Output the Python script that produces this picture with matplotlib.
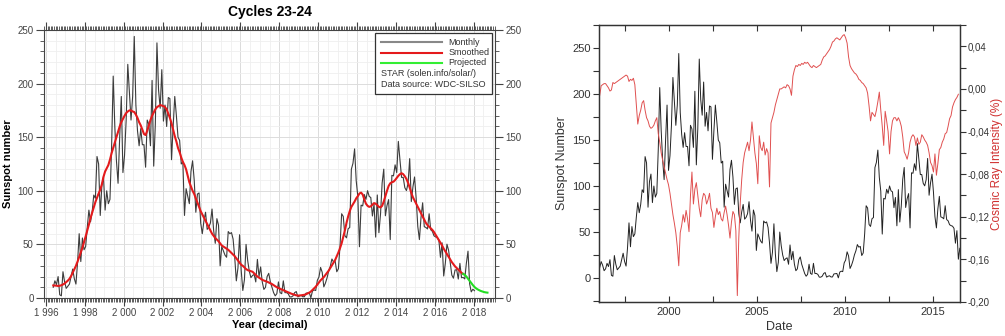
import numpy as np
import matplotlib.pyplot as plt
from matplotlib.ticker import MultipleLocator, FuncFormatter

plt.rcParams['font.family'] = ['Liberation Sans', 'DejaVu Sans']

# monthly sunspot number, Jan 1996 .. Jan 2018
monthly_ssn = [
    11.5, 17.9, 13.9, 8.0, 10.0, 16.0, 12.5, 20.0, 3.0, 2.0, 24.5, 15.0,
    9.0, 11.0, 13.0, 20.0, 27.0, 18.0, 13.0, 33.0, 60.0, 34.0, 56.0, 45.0,
    48.0, 66.0, 82.0, 71.0, 80.0, 96.0, 93.0, 132.0, 125.0, 77.0, 105.0, 113.0,
    82.0, 100.0, 88.0, 92.0, 140.0, 207.0, 160.0, 128.0, 107.0, 150.0, 188.0, 117.0,
    133.0, 166.0, 218.0, 192.0, 166.0, 188.0, 244.0, 180.0, 156.0, 142.0, 158.0, 143.0,
    143.0, 122.0, 166.0, 162.0, 142.0, 203.0, 123.0, 162.0, 238.0, 194.0, 177.0, 213.0,
    165.0, 180.0, 160.0, 187.0, 186.0, 129.0, 160.0, 188.0, 170.0, 150.0, 147.0, 125.0,
    127.0, 77.0, 102.0, 95.0, 88.0, 118.0, 128.0, 110.0, 80.0, 97.0, 98.0, 70.0,
    60.0, 72.0, 80.0, 64.0, 66.0, 70.0, 83.0, 63.0, 51.0, 74.0, 68.0, 30.0,
    48.0, 44.0, 40.0, 38.0, 62.0, 60.0, 61.0, 55.0, 38.0, 16.0, 28.0, 59.0,
    26.0, 7.0, 17.0, 50.0, 35.0, 25.0, 19.0, 21.0, 22.0, 15.0, 36.0, 20.0,
    29.0, 15.0, 8.0, 10.0, 20.0, 23.0, 15.0, 10.0, 5.0, 2.0, 4.0, 15.0,
    5.0, 4.0, 16.0, 5.0, 5.0, 4.0, 1.0, 1.0, 2.0, 5.0, 6.0, 1.0,
    2.0, 2.5, 1.2, 1.2, 4.5, 4.7, 5.0, 0.2, 6.5, 7.5, 7.0, 16.5,
    19.6, 28.5, 24.0, 10.4, 13.9, 18.8, 25.2, 29.6, 36.4, 33.6, 34.4, 24.5,
    27.3, 48.3, 78.6, 76.1, 58.2, 56.1, 64.5, 65.8, 120.1, 125.7, 139.1, 109.3,
    94.4, 47.8, 86.6, 85.9, 96.5, 92.0, 100.1, 94.8, 93.7, 76.5, 87.6, 56.8,
    96.1, 60.9, 78.3, 107.3, 120.2, 76.7, 86.2, 91.8, 54.5, 114.4, 113.9, 124.2,
    117.0, 146.1, 128.7, 112.5, 112.5, 102.9, 100.2, 106.9, 130.0, 90.0, 103.6, 112.9,
    93.0, 66.7, 54.5, 75.3, 88.8, 66.5, 65.8, 64.4, 78.6, 63.6, 62.2, 58.0,
    57.0, 56.4, 54.1, 37.9, 51.5, 20.5, 32.4, 50.2, 44.6, 33.4, 21.4, 18.5,
    26.1, 26.4, 17.7, 32.3, 18.9, 19.2, 17.8, 32.6, 43.7, 13.2, 5.7, 8.2,
    6.8,
]

# 13-month smoothed, May 1996 .. Jun 2017
smoothed_ssn = [
    11.7, 11.6, 11.5, 11.2, 11.4, 11.9, 12.6, 13.5,
    14.8, 16.2, 17.9, 20.4, 23.6, 26.7, 30.0, 34.0, 38.4, 42.6, 46.8, 52.0,
    57.5, 63.0, 68.5, 74.5, 79.5, 84.5, 89.5, 93.5, 97.5, 101.0, 106.0, 113.0,
    118.0, 121.0, 124.0, 129.0, 135.0, 140.0, 145.0, 150.0, 155.0, 160.0, 164.0, 167.0,
    170.0, 172.5, 174.0, 175.0, 175.0, 174.0, 173.5, 171.0, 168.0, 164.0, 161.0, 157.0,
    153.0, 152.0, 156.0, 161.0, 166.0, 170.0, 173.0, 176.0, 178.0, 179.0, 180.0, 179.5,
    179.0, 178.0, 176.0, 172.0, 168.0, 163.0, 157.0, 151.0, 146.0, 140.0, 136.0, 131.0,
    127.0, 124.0, 120.0, 114.0, 108.0, 104.0, 100.0, 97.0, 93.0, 89.0, 85.0, 81.0,
    78.0, 75.0, 72.0, 69.0, 66.0, 63.0, 60.0, 58.0, 56.0, 54.5, 53.0, 51.0,
    49.0, 48.0, 47.0, 46.0, 45.0, 43.5, 42.0, 40.5, 39.0, 37.0, 35.0, 33.0,
    31.0, 30.0, 28.5, 27.0, 26.0, 25.5, 25.0, 24.5, 23.0, 21.5, 20.0, 19.0,
    18.0, 17.0, 16.3, 15.8, 15.2, 14.5, 13.8, 13.0, 12.0, 11.0, 10.0, 9.3,
    8.6, 8.0, 7.3, 6.6, 6.0, 5.3, 4.6, 4.0, 3.5, 3.0, 2.5, 2.2,
    2.3, 2.5, 2.7, 3.0, 3.5, 4.2, 5.0, 6.0, 7.5, 9.0, 10.5, 12.5,
    14.5, 16.5, 18.0, 19.5, 21.5, 23.5, 25.5, 28.0, 30.5, 33.0, 35.5, 39.0,
    42.5, 46.5, 51.0, 57.0, 63.0, 70.0, 76.0, 81.0, 85.0, 87.5, 90.0, 93.0,
    95.0, 97.5, 98.3, 96.5, 92.0, 88.0, 86.0, 85.0, 85.5, 87.0, 88.5, 88.0,
    86.5, 85.0, 84.5, 86.0, 90.0, 95.0, 100.0, 104.5, 107.0, 108.0, 108.5, 110.0,
    112.0, 114.0, 115.5, 116.4, 115.5, 113.5, 111.0, 107.5, 103.0, 98.0, 94.0, 91.0,
    88.0, 85.0, 82.0, 79.0, 76.0, 73.0, 70.0, 68.0, 66.5, 65.0, 63.5, 61.5,
    59.0, 56.5, 54.0, 51.5, 49.0, 46.0, 43.5, 41.0, 38.5, 36.0, 33.5, 31.5,
    29.5, 28.0, 26.5, 25.0, 23.5, 22.5,
]

# projected smoothed, Jun 2017 .. Sep 2018
projected_ssn = [22.5, 21.5, 20.0, 18.0, 16.0, 14.0, 12.0, 10.3,
                 9.0, 8.0, 7.2, 6.5, 6.0, 5.5, 5.2, 5.0]

# cosmic ray intensity (%), Jan 1996 .. Jun 2016
cosmic_ray = [
    -0.006, 0.003, 0.004, 0.005, 0.005, 0.003, 0.001, -0.002, -0.001, 0.006, 0.005, 0.006,
    0.007, 0.008, 0.009, 0.010, 0.011, 0.012, 0.013, 0.012, 0.007, 0.009, 0.008, 0.010,
    0.004, -0.015, -0.033, -0.025, -0.020, -0.013, -0.011, -0.020, -0.027, -0.030, -0.035, -0.037,
    -0.036, -0.034, -0.030, -0.027, -0.042, -0.050, -0.060, -0.067, -0.073, -0.079, -0.085, -0.090,
    -0.098, -0.108, -0.118, -0.126, -0.135, -0.148, -0.166, -0.135, -0.128, -0.118, -0.125, -0.114,
    -0.122, -0.134, -0.100, -0.078, -0.108, -0.094, -0.088, -0.100, -0.112, -0.120, -0.104, -0.098,
    -0.100, -0.108, -0.104, -0.098, -0.112, -0.116, -0.130, -0.120, -0.112, -0.118, -0.115, -0.122,
    -0.124, -0.116, -0.110, -0.118, -0.128, -0.140, -0.125, -0.115, -0.118, -0.133, -0.194, -0.140,
    -0.107, -0.085, -0.069, -0.060, -0.055, -0.050, -0.058, -0.048, -0.031, -0.045, -0.060, -0.070,
    -0.089, -0.044, -0.055, -0.058, -0.050, -0.062, -0.056, -0.060, -0.092, -0.032, -0.027, -0.022,
    -0.015, -0.010, -0.005, 0.000, 0.000, 0.001, 0.002, 0.001, 0.004, 0.003, 0.000, -0.006,
    0.012, 0.018, 0.022, 0.021, 0.023, 0.022, 0.024, 0.023, 0.025, 0.024, 0.025, 0.023,
    0.021, 0.020, 0.022, 0.021, 0.020, 0.021, 0.022, 0.023, 0.027, 0.030, 0.031, 0.033,
    0.035, 0.037, 0.040, 0.044, 0.045, 0.047, 0.048, 0.047, 0.046, 0.048, 0.050, 0.051,
    0.048, 0.043, 0.030, 0.022, 0.019, 0.017, 0.015, 0.014, 0.012, 0.009, 0.008, 0.006,
    0.005, 0.003, 0.001, -0.004, -0.016, -0.030, -0.022, -0.024, -0.026, -0.020, -0.012, -0.003,
    -0.020, -0.035, -0.053, -0.021, -0.030, -0.040, -0.061, -0.040, -0.030, -0.027, -0.027, -0.030,
    -0.027, -0.030, -0.035, -0.045, -0.059, -0.062, -0.066, -0.060, -0.050, -0.045, -0.043, -0.045,
    -0.053, -0.046, -0.052, -0.050, -0.043, -0.045, -0.048, -0.050, -0.053, -0.060, -0.069, -0.072,
    -0.078, -0.061, -0.081, -0.070, -0.057, -0.055, -0.050, -0.047, -0.042, -0.041, -0.035, -0.028,
    -0.025, -0.017, -0.013, -0.010, -0.008, -0.005,
]


def month_axis(year, month, n):
    # decimal year at mid-month
    return year + (month - 0.5 + np.arange(n)) / 12


t_monthly = month_axis(1996, 1, len(monthly_ssn))
t_smooth = month_axis(1996, 5, len(smoothed_ssn))
t_proj = month_axis(2017, 6, len(projected_ssn))
t_cosmic = month_axis(1996, 1, len(cosmic_ray))

fig = plt.figure(figsize=(10.05, 3.36), dpi=100)

# ---- left panel: cycles 23-24 ----
ax = fig.add_axes([0.0438, 0.1131, 0.4488, 0.7976])
ax.set_xlim(1995.9, 2019.1)
ax.set_ylim(0, 250)
ax.vlines(np.arange(1996, 2019.1, 0.5), 0, 250, color='#efefef', lw=0.6, zorder=0)
ax.xaxis.set_major_locator(MultipleLocator(2))
ax.xaxis.set_minor_locator(MultipleLocator(1 / 12))
ax.yaxis.set_major_locator(MultipleLocator(50))
ax.yaxis.set_minor_locator(MultipleLocator(10))
ax.grid(which='major', color='#dcdcdc', lw=0.7, zorder=0)
ax.grid(which='minor', axis='y', color='#efefef', lw=0.6, zorder=0)
ax.set_axisbelow(True)
ax.xaxis.set_major_formatter(FuncFormatter(lambda v, p: f"{int(round(v)) // 1000} {int(round(v)) % 1000:03d}"))
ax.tick_params(which='both', direction='out', top=True, right=True, labelright=True,
               colors='#444444', labelsize=7, pad=1.5)
ax.tick_params(which='major', length=6, width=0.8)
ax.tick_params(which='minor', length=3, width=0.6)
for s in ax.spines.values():
    s.set_color('#444444')
    s.set_linewidth(0.8)

ax.plot(t_monthly[4:], monthly_ssn[4:], color='#3c3c3c', lw=0.8, zorder=3)
ax.plot(t_smooth, smoothed_ssn, color='#e41a1c', lw=1.5, zorder=4)
ax.plot(t_proj, projected_ssn, color='#22dd22', lw=1.5, zorder=4)

ax.set_title('Cycles 23-24', fontsize=10, fontweight='bold', pad=10)
ax.set_xlabel('Year (decimal)', fontsize=8, fontweight='bold', labelpad=1)
ax.set_ylabel('Sunspot number', fontsize=8, fontweight='bold', labelpad=3)

# legend box
tr = ax.transAxes
ax.add_patch(plt.Rectangle((0.734, 0.761), 0.259, 0.228, transform=tr,
                           facecolor='white', edgecolor='#333333', lw=0.9, zorder=6))
rows = [('Monthly', '#888888', 0.955), ('Smoothed', '#e41a1c', 0.916), ('Projected', '#33ee33', 0.877)]
for name, col, yy in rows:
    ax.plot([0.747, 0.882], [yy, yy], transform=tr, color=col, lw=1.5, zorder=7)
    ax.text(0.896, yy, name, transform=tr, fontsize=6.5, color='#333333', va='center', zorder=7)
ax.text(0.747, 0.836, 'STAR (solen.info/solar/)', transform=tr, fontsize=6.5, color='#333333', va='center', zorder=7)
ax.text(0.747, 0.795, 'Data source: WDC-SILSO', transform=tr, fontsize=6.5, color='#333333', va='center', zorder=7)

# ---- right panel: sunspots vs cosmic rays ----
axr = fig.add_axes([0.596, 0.1012, 0.3592, 0.8244])
ax2 = axr.twinx()
n_r = len(cosmic_ray) + 1
axr.plot(t_monthly[:n_r], monthly_ssn[:n_r], color='#222222', lw=0.7)
ax2.plot(t_cosmic, cosmic_ray, color='#e05050', lw=0.7)

axr.set_xlim(1996.0, 2016.55)
axr.set_ylim(-26, 275)
ax2.set_ylim(-0.20, 0.06)
axr.xaxis.set_major_locator(MultipleLocator(5))
axr.xaxis.set_minor_locator(MultipleLocator(2.5))
axr.yaxis.set_major_locator(MultipleLocator(50))
axr.yaxis.set_minor_locator(MultipleLocator(25))
ax2.yaxis.set_major_locator(MultipleLocator(0.04))
ax2.yaxis.set_minor_locator(MultipleLocator(0.02))
ax2.yaxis.set_major_formatter(FuncFormatter(lambda v, p: f"{round(v, 2) + 0.0:.2f}".replace('.', ',')))

axr.tick_params(axis='x', which='both', direction='in', top=True, length=4, width=0.8,
                colors='#333333', labelsize=8)
axr.tick_params(axis='y', which='both', direction='out', length=4, width=0.8,
                colors='#333333', labelsize=8, pad=2)
ax2.tick_params(axis='y', which='both', direction='out', length=4, width=0.8,
                colors='#333333', labelsize=7, pad=1.5)
for a in (axr, ax2):
    for s in a.spines.values():
        s.set_color('#333333')
        s.set_linewidth(0.9)

axr.set_xlabel('Date', fontsize=9, color='#333333', labelpad=3)
axr.set_ylabel('Sunspot Number', fontsize=9, color='#333333', labelpad=3)
ax2.set_ylabel('Cosmic Ray Intensity (%)', fontsize=8.5, color='#d03030', labelpad=1)

fig.savefig('out.png', dpi=100)
